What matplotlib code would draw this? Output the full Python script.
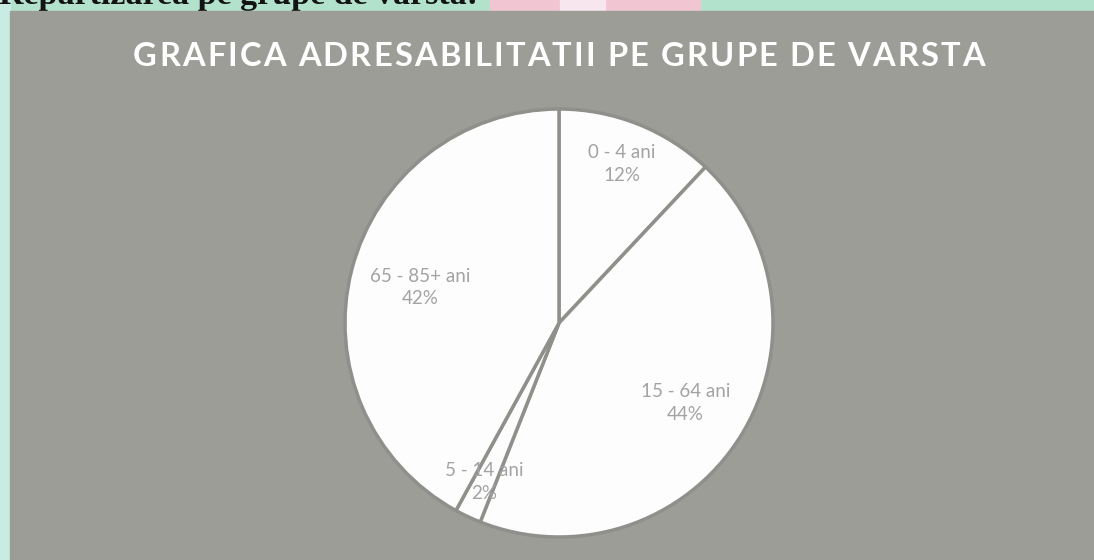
import matplotlib
matplotlib.use("Agg")
import matplotlib.pyplot as plt
import numpy as np
from matplotlib.patches import Rectangle

# ---- data ----
categories = ["0 - 4 ani", "15 - 64 ani", "5 - 14 ani", "65 - 85+ ani"]
shares = [12, 44, 2, 42]
title = "GRAFICA ADRESABILITATII PE GRUPE DE VARSTA"
page_heading = "Repartizarea pe grupe de varsta:"

W, H = 1094, 560
fig = plt.figure(figsize=(W / 100, H / 100), dpi=100)
fig.patch.set_facecolor("#c4eadb")

# top strip (scanned page above the chart)
bg = fig.add_axes([0, 0, 1, 1])
bg.set_xlim(0, W)
bg.set_ylim(H, 0)
bg.axis("off")
bg.add_patch(Rectangle((0, 0), W, 11, color="#b3e2cc", zorder=0))
bg.add_patch(Rectangle((490, 0), 210, 11, color="#f2c5d3", zorder=1))
bg.add_patch(Rectangle((560, 0), 45, 11, color="#f7e6ee", zorder=1))
bg.add_patch(Rectangle((0, 0), 10, H, color="#c9ece2", zorder=1))
bg.text(-1, 4, page_heading, fontsize=24.5, fontweight="bold",
        family="Liberation Serif", color="#141414", va="baseline", ha="left", zorder=2)
# chart panel
bg.add_patch(Rectangle((10, 11), W - 10, H - 11, color="#9b9d96", zorder=3))

# title with letter spacing (Calibri-like tracking)
fig.canvas.draw()
renderer = fig.canvas.get_renderer()
tfont = dict(fontsize=23.5, fontweight="bold", family="Lato")
def prefix_width(s):
    if not s:
        return 0.0
    t = bg.text(0, 0, s + "|", **tfont)
    w_all = t.get_window_extent(renderer).width
    t.remove()
    t = bg.text(0, 0, "|", **tfont)
    w_bar = t.get_window_extent(renderer).width
    t.remove()
    return w_all - w_bar
full_w = prefix_width(title)
target_left, target_right = 133, 985
track = (target_right - target_left - full_w) / (len(title) - 1)
for i, ch in enumerate(title):
    if ch == " ":
        continue
    x = target_left + prefix_width(title[:i]) + i * track
    bg.text(x, 57, ch, color="white", ha="left", va="center", zorder=4, **tfont)

# pie
cx, cy, R = 559, 323, 214
ax = fig.add_axes([(cx - R) / W, (H - cy - R) / H, 2 * R / W, 2 * R / H])
ax.set_zorder(5)
wedges, _ = ax.pie(shares, startangle=90, counterclock=False,
                   colors=["#fdfdfd"] * len(shares),
                   wedgeprops=dict(edgecolor="#8f908b", linewidth=2.5))
for w in wedges:
    w.set_clip_on(False)
ax.set_xlim(-1, 1)
ax.set_ylim(-1, 1)
ax.set_aspect("auto")
ax.axis("off")

label_r = [0.80, 0.70, 0.82, 0.67]
for w, cat, val, r in zip(wedges, categories, shares, label_r):
    mid = np.deg2rad((w.theta1 + w.theta2) / 2)
    ax.text(r * np.cos(mid), r * np.sin(mid), f"{cat}\n{val}%",
            ha="center", va="center", fontsize=13.5, family="Lato",
            color="#a3a3a3", linespacing=1.4)

fig.savefig("out.png", dpi=100)
